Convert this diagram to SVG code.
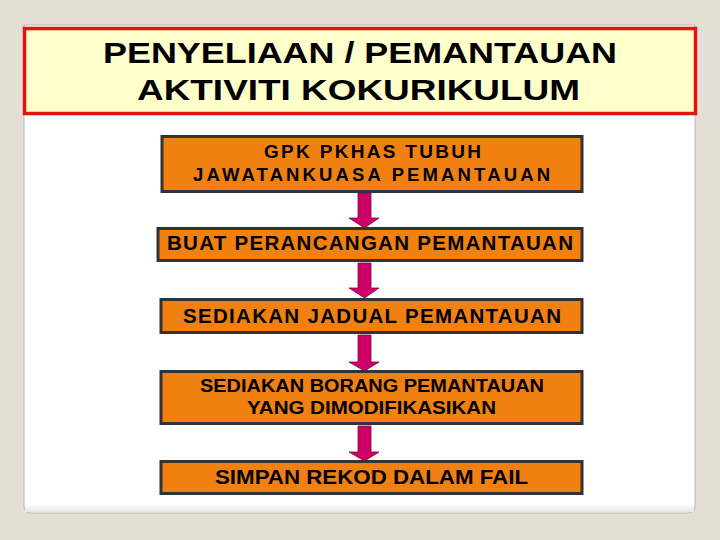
<svg xmlns="http://www.w3.org/2000/svg" width="720" height="540" viewBox="0 0 720 540">
<style>
.box{fill:#F08010;stroke:#333333;stroke-width:3}
.t{font-family:"Liberation Sans",Arial,sans-serif;font-weight:bold;fill:#000;text-anchor:start}
.arr{fill:#CC0066;stroke:#8A0044;stroke-width:0.8}
</style>
<defs>
<linearGradient id="sh" x1="0" y1="0" x2="0" y2="1">
<stop offset="0" stop-color="#ffffff"/>
<stop offset="1" stop-color="#e6e6e6"/>
</linearGradient>
</defs>
<rect width="720" height="540" fill="#E4DFD5"/>
<g id="panel">
<path d="M24,25 H695 V506 Q695,513 688,513 H31 Q24,513 24,506 Z" fill="#ffffff" stroke="#bdb8b0" stroke-width="1"/>
<rect x="25" y="504" width="669" height="8" fill="url(#sh)"/>
</g>
<g id="title">
<rect x="24.5" y="28.5" width="671" height="85" fill="#FFFFCC" stroke="#E3150F" stroke-width="3.5"/>
<text class="t" x="103" y="63" font-size="29" textLength="514" lengthAdjust="spacingAndGlyphs">PENYELIAAN / PEMANTAUAN</text>
<text class="t" x="137" y="100" font-size="29" textLength="443" lengthAdjust="spacingAndGlyphs">AKTIVITI KOKURIKULUM</text>
</g>
<g id="connectors">
<path class="arr" d="M358,193 H371 V218 H379 L364.5,228 L349,218 H358 Z"/>
<path class="arr" d="M358,263 H371 V288 H379 L364.5,298 L349,288 H358 Z"/>
<path class="arr" d="M358,335 H371 V362 H379 L364.5,371 L349,362 H358 Z"/>
<path class="arr" d="M358,426 H371 V452 H379 L364.5,461 L349,452 H358 Z"/>
</g>
<g id="n1">
<rect class="box" x="162" y="136.5" width="420" height="55"/>
<text class="t" x="264" y="158" font-size="19" textLength="217" lengthAdjust="spacing">GPK PKHAS TUBUH</text>
<text class="t" x="193" y="181" font-size="18.5" textLength="357" lengthAdjust="spacing">JAWATANKUASA PEMANTAUAN</text>
</g>
<g id="n2">
<rect class="box" x="158" y="228.5" width="424" height="32"/>
<text class="t" x="167" y="250" font-size="20.5" textLength="406" lengthAdjust="spacing">BUAT PERANCANGAN PEMANTAUAN</text>
</g>
<g id="n3">
<rect class="box" x="161" y="299.5" width="421" height="33"/>
<text class="t" x="183" y="323" font-size="20.5" textLength="378" lengthAdjust="spacing">SEDIAKAN JADUAL PEMANTAUAN</text>
</g>
<g id="n4">
<rect class="box" x="161" y="371.5" width="421" height="52"/>
<text class="t" x="200" y="392" font-size="18" textLength="344" lengthAdjust="spacingAndGlyphs">SEDIAKAN BORANG PEMANTAUAN</text>
<text class="t" x="247" y="414" font-size="18" textLength="249" lengthAdjust="spacingAndGlyphs">YANG DIMODIFIKASIKAN</text>
</g>
<g id="n5">
<rect class="box" x="161" y="461.5" width="421" height="32"/>
<text class="t" x="215" y="484" font-size="20" textLength="313" lengthAdjust="spacingAndGlyphs">SIMPAN REKOD DALAM FAIL</text>
</g>
</svg>
